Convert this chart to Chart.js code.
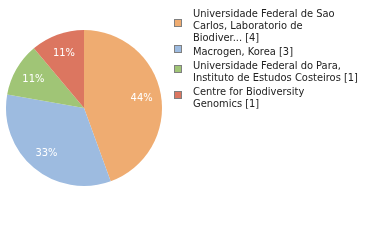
<!DOCTYPE html>
<html><head><meta charset="utf-8">
<script src="https://cdn.jsdelivr.net/npm/chart.js@4/dist/chart.umd.min.js"></script>
<style>html,body{margin:0;padding:0;background:#fff}#w{position:relative;width:380px;height:240px}</style>
</head><body><div id="w"><canvas id="c" width="380" height="240"></canvas></div>
<script>
const categories = [
  ["Universidade Federal de Sao", "Carlos, Laboratorio de", "Biodiver... [4]"],
  ["Macrogen, Korea [3]"],
  ["Universidade Federal do Para,", "Instituto de Estudos Costeiros [1]"],
  ["Centre for Biodiversity", "Genomics [1]"]
];
const counts = [4, 3, 1, 1];
const percentLabels = ["44%", "33%", "11%", "11%"];
const colors = ["#EFAC71", "#9DBBE0", "#A0C576", "#DC7660"];

const FONT = "11px 'DejaVu Sans Condensed', 'DejaVu Sans', sans-serif";

const sliceLabels = {
  id: 'sliceLabels',
  afterDatasetsDraw(chart) {
    const ctx = chart.ctx;
    const meta = chart.getDatasetMeta(0);
    ctx.save();
    ctx.font = FONT;
    ctx.fillStyle = '#fff';
    ctx.textAlign = 'center';
    ctx.textBaseline = 'middle';
    meta.data.forEach((arc, i) => {
      const p = arc.getProps(['x','y','startAngle','endAngle','outerRadius'], true);
      const mid = (p.startAngle + p.endAngle) / 2;
      const r = p.outerRadius * 0.75;
      ctx.fillText(percentLabels[i], p.x + Math.cos(mid) * r, p.y + Math.sin(mid) * r);
    });
    ctx.restore();
  }
};

const legendPlugin = {
  id: 'sideLegend',
  afterDraw(chart) {
    const ctx = chart.ctx;
    ctx.save();
    ctx.font = FONT;
    ctx.textBaseline = 'alphabetic';
    ctx.textAlign = 'left';
    const lineH = 12;
    let base = 17;
    categories.forEach((lines, i) => {
      const top = base;
      lines.forEach((t, k) => {
        ctx.fillStyle = '#222';
        ctx.fillText(t, 193, base + k * lineH);
      });
      const midY = Math.round(top - 6 + (lines.length - 1) * lineH / 2);
      ctx.fillStyle = colors[i];
      ctx.fillRect(174.5, midY - 3.5, 7, 7);
      ctx.strokeStyle = '#808080';
      ctx.lineWidth = 1;
      ctx.strokeRect(174.5, midY - 3.5, 7, 7);
      base += (lines.length - 1) * lineH + 14;
    });
    ctx.restore();
  }
};

new Chart(document.getElementById('c'), {
  type: 'pie',
  data: {
    labels: categories.map(l => l.join(' ')),
    datasets: [{ data: counts, backgroundColor: colors, borderWidth: 0 }]
  },
  options: {
    responsive: false,
    animation: false,
    layout: { padding: { left: 6, top: 30, right: 218, bottom: 54 } },
    plugins: { legend: { display: false }, tooltip: { enabled: false } }
  },
  plugins: [sliceLabels, legendPlugin]
});
</script></body></html>
